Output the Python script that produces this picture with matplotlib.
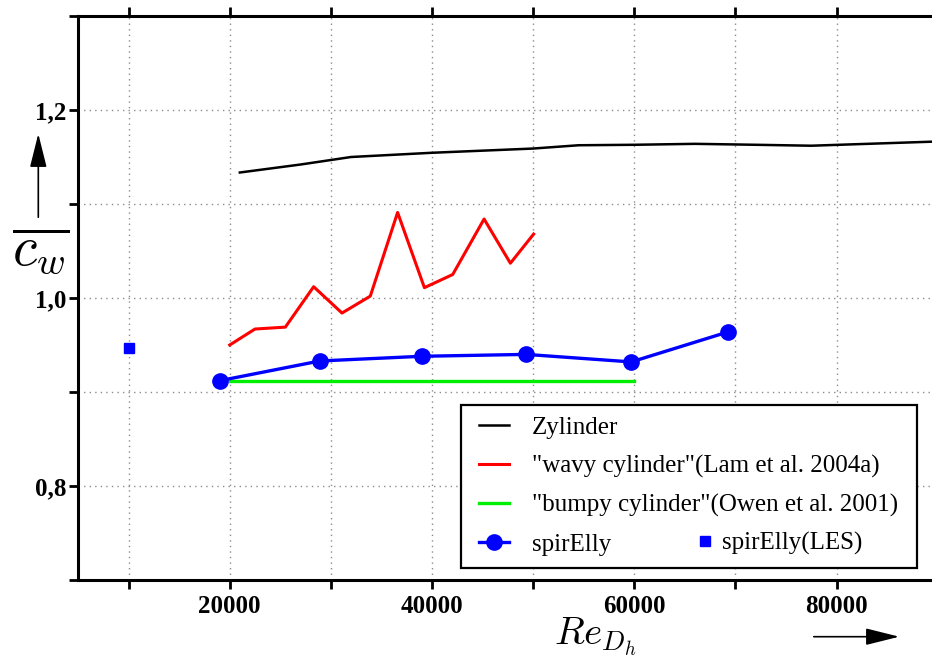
import matplotlib
matplotlib.use("Agg")
import matplotlib.pyplot as plt
import matplotlib.ticker as mticker
from matplotlib.legend_handler import HandlerLine2D

plt.rcParams["font.family"] = ["Liberation Serif", "DejaVu Serif"]
plt.rcParams["mathtext.fontset"] = "cm"

# data
zyl_re = [21000, 27000, 32000, 40000, 50000, 54500, 60000, 66000, 72000, 77500, 90000]
zyl_cw = [1.1335, 1.142, 1.150, 1.1545, 1.159, 1.1625, 1.163, 1.164, 1.163, 1.162, 1.1665]

wavy_re = [20000, 22500, 25500, 28300, 31100, 33900, 36600, 39250, 42050, 45150, 47750, 50050]
wavy_cw = [0.950, 0.967, 0.969, 1.012, 0.984, 1.002, 1.091, 1.011, 1.025, 1.084, 1.037, 1.068]

bumpy_re = [20000, 60000]
bumpy_cw = [0.9115, 0.9115]

spir_re = [19000, 28900, 39000, 49300, 59700, 69300]
spir_cw = [0.912, 0.933, 0.938, 0.940, 0.932, 0.964]

les_re = [10000]
les_cw = [0.947]

W, H = 932, 657
fig = plt.figure(figsize=(W / 100, H / 100), dpi=100)
ax = fig.add_axes([78 / W, 1 - 580 / H, (937.7 - 78) / W, 564 / H])

l_zyl, = ax.plot(zyl_re, zyl_cw, color="black", lw=1.8, label="Zylinder")
l_wavy, = ax.plot(wavy_re, wavy_cw, color="#ff0000", lw=2.2, label='"wavy cylinder"(Lam et al. 2004a)')
l_bumpy, = ax.plot(bumpy_re, bumpy_cw, color="#00ee00", lw=2.4, label='"bumpy cylinder"(Owen et al. 2001)')
l_spir, = ax.plot(spir_re, spir_cw, color="#0000ff", lw=2.4, marker="o", ms=11, label="spirElly")
l_les, = ax.plot(les_re, les_cw, ls="none", color="#0000ff", marker="s", ms=7, label="spirElly(LES)")

ax.set_xlim(5000, 90000)
ax.set_ylim(0.7, 1.3)

ax.xaxis.set_major_locator(mticker.MultipleLocator(10000))
ax.yaxis.set_major_locator(mticker.MultipleLocator(0.1))
ax.xaxis.set_major_formatter(mticker.FuncFormatter(
    lambda v, p: f"{v:.0f}" if round(v) % 20000 == 0 else ""))
ax.yaxis.set_major_formatter(mticker.FuncFormatter(
    lambda v, p: f"{v:.1f}".replace(".", ",") if round(v * 10) % 2 == 0 else ""))

ax.tick_params(axis="both", direction="out", length=6.5, width=2.0,
               labelsize=18, top=True, right=False)
ax.tick_params(axis="x", pad=4)
ax.tick_params(axis="y", pad=2)
for lab in ax.get_xticklabels() + ax.get_yticklabels():
    lab.set_fontweight("bold")
for sp in ax.spines.values():
    sp.set_linewidth(2.2)

ax.grid(True, linestyle=(0, (1, 3)), color="0.55", lw=1.0)
ax.set_axisbelow(True)

hpad = HandlerLine2D(xpad=0.28)
leg = ax.legend(handles=[l_zyl, l_wavy, l_bumpy, l_spir], loc="lower left",
                bbox_to_anchor=(0.445, 0.0218, 0.531, 0.29), mode="expand",
                borderaxespad=0, borderpad=0.46, fontsize=18, handlelength=1.48,
                handletextpad=0.9, labelspacing=0.65, fancybox=False,
                edgecolor="black", framealpha=1,
                handler_map={l_zyl: hpad, l_wavy: hpad, l_bumpy: hpad, l_spir: hpad})
leg.get_frame().set_linewidth(1.6)
ax.add_artist(leg)
ax.legend(handles=[l_les], loc="center left", bbox_to_anchor=(0.7197, 0.0651),
          frameon=False, borderpad=0, borderaxespad=0, fontsize=18,
          handlelength=0.66, handletextpad=0.34)

# axis labels with arrows
fig.text(41 / W, 1 - 251 / H, r"$\overline{c_w}$", fontsize=40, ha="center", va="center")
fig.text(554 / W, 1 - 645 / H, r"$Re_{D_h}$", fontsize=28, ha="left", va="baseline")
fig.patches.append(matplotlib.patches.FancyArrowPatch(
    (38.3 / W, 1 - 220 / H), (38.3 / W, 1 - 131 / H), transform=fig.transFigure,
    arrowstyle="-|>,head_length=0.8,head_width=0.2", mutation_scale=26, lw=1.2, color="black"))
fig.patches.append(matplotlib.patches.FancyArrowPatch(
    (811 / W, 1 - 636.7 / H), (902 / W, 1 - 636.7 / H), transform=fig.transFigure,
    arrowstyle="-|>,head_length=0.8,head_width=0.2", mutation_scale=26, lw=1.2, color="black"))

fig.savefig("out.png", dpi=100)
